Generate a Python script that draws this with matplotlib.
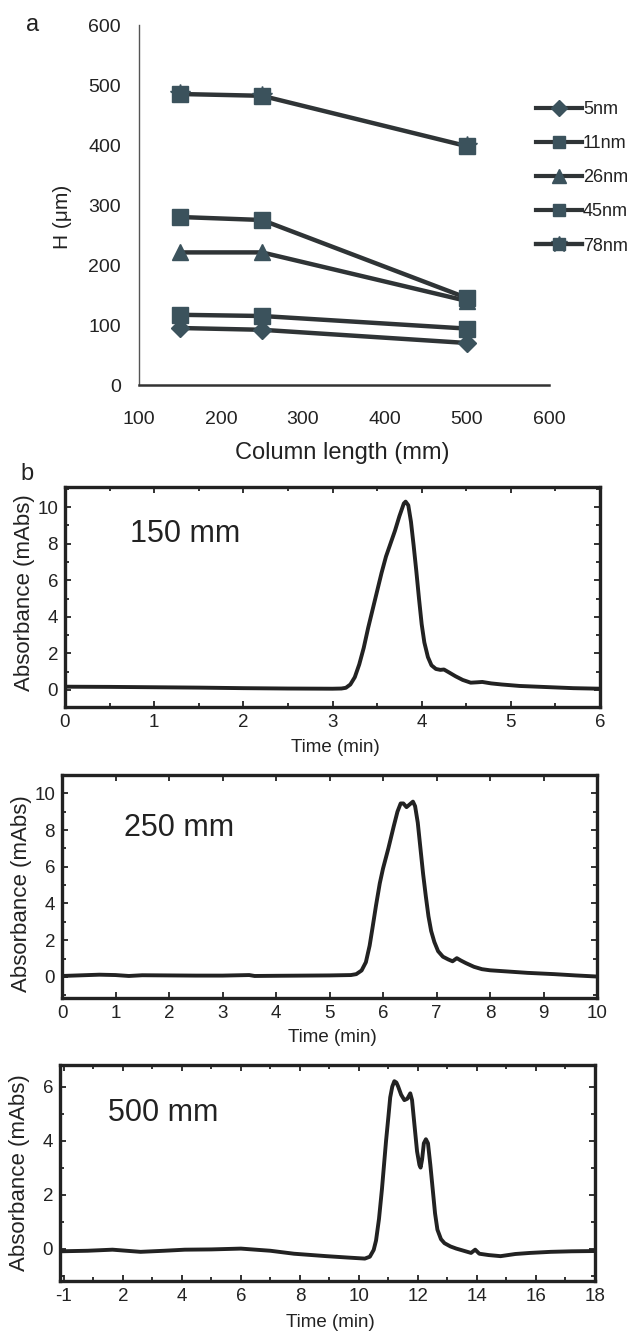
import matplotlib
matplotlib.use("Agg")
import matplotlib.pyplot as plt
from matplotlib.ticker import MultipleLocator, FixedLocator, NullLocator
from matplotlib.lines import Line2D

plt.rcParams['font.family'] = ['Liberation Sans', 'DejaVu Sans']
NARROW = ['Liberation Sans Narrow', 'Liberation Sans', 'DejaVu Sans']

# ---------------- Panel a data ----------------
column_length = [150, 250, 500]
series_labels = ["5nm", "11nm", "26nm", "45nm", "78nm"]
h_5nm = [95, 92, 70]
h_11nm = [117, 115, 94]
h_26nm = [221, 221, 140]
h_45nm = [280, 275, 145]
h_78nm = [485, 482, 398]
a_xticks = [100, 200, 300, 400, 500, 600]
a_yticks = [0, 100, 200, 300, 400, 500, 600]

# ---------------- Panel b data ----------------
t150 = [0.0, 0.5, 1.0, 1.5, 2.0, 2.5, 3.0, 3.1, 3.15, 3.2, 3.25, 3.3, 3.35, 3.4, 3.45,
        3.5, 3.55, 3.6, 3.65, 3.7, 3.75, 3.8, 3.82, 3.85, 3.88, 3.91, 3.94, 3.97, 4.0,
        4.03, 4.07, 4.11, 4.16, 4.21, 4.25, 4.3, 4.38, 4.46, 4.55, 4.62, 4.68, 4.78,
        4.9, 5.1, 5.4, 5.7, 6.0]
a150 = [0.18, 0.17, 0.15, 0.13, 0.1, 0.08, 0.07, 0.08, 0.12, 0.3, 0.7, 1.4, 2.3, 3.4, 4.4,
        5.4, 6.4, 7.3, 8.0, 8.7, 9.5, 10.2, 10.3, 10.1, 9.2, 7.9, 6.5, 5.0, 3.6,
        2.6, 1.8, 1.35, 1.15, 1.1, 1.12, 0.98, 0.75, 0.55, 0.4, 0.42, 0.44, 0.36,
        0.3, 0.22, 0.16, 0.1, 0.07]

t250 = [0.0, 0.3, 0.7, 1.0, 1.25, 1.5, 2.0, 2.5, 3.0, 3.5, 3.6, 4.0, 4.5, 5.0, 5.4, 5.5,
        5.6, 5.68, 5.75, 5.8, 5.87, 5.94, 6.0, 6.1, 6.2, 6.27, 6.33, 6.38, 6.44, 6.5,
        6.56, 6.6, 6.65, 6.7, 6.75, 6.8, 6.85, 6.9, 6.96, 7.03, 7.12, 7.22, 7.3, 7.38,
        7.45, 7.55, 7.7, 7.85, 8.0, 8.3, 8.7, 9.2, 9.6, 10.0]
a250 = [0.05, 0.08, 0.12, 0.1, 0.05, 0.09, 0.08, 0.07, 0.07, 0.1, 0.05, 0.06, 0.07, 0.08, 0.1, 0.15,
        0.35, 0.8, 1.7, 2.6, 3.9, 5.1, 5.9, 7.0, 8.2, 9.0, 9.45, 9.45, 9.25, 9.4,
        9.55, 9.3, 8.4, 7.0, 5.6, 4.4, 3.3, 2.5, 1.9, 1.4, 1.1, 0.95, 0.85, 1.02,
        0.9, 0.75, 0.55, 0.42, 0.36, 0.3, 0.22, 0.15, 0.08, 0.02]

t500 = [-0.13, 0.8, 1.65, 2.6, 3.4, 4.1, 5.0, 6.0, 7.0, 7.8, 8.9, 9.6, 10.2, 10.37, 10.5,
        10.58, 10.68, 10.78, 10.85, 10.92, 11.0, 11.06, 11.13, 11.2, 11.27, 11.33, 11.43,
        11.54, 11.64, 11.74, 11.8, 11.88, 11.97, 12.05, 12.09, 12.14, 12.2, 12.27, 12.34,
        12.42, 12.5, 12.58, 12.66, 12.78, 12.9, 13.1, 13.3, 13.55, 13.8, 13.94, 14.08,
        14.4, 14.8, 15.3, 15.8, 16.5, 17.2, 18.0]
a500 = [-0.1, -0.08, -0.04, -0.12, -0.08, -0.04, -0.03, 0.0, -0.08, -0.19, -0.28, -0.33, -0.37, -0.3, -0.05,
        0.3, 1.1, 2.2, 3.1, 4.0, 4.9, 5.6, 6.0, 6.2, 6.15, 6.0, 5.7,
        5.5, 5.55, 5.75, 5.5, 4.6, 3.6, 3.1, 3.0, 3.3, 3.9, 4.05, 3.9,
        3.1, 2.2, 1.3, 0.7, 0.35, 0.2, 0.08, 0.0, -0.08, -0.16, -0.04, -0.19,
        -0.24, -0.28, -0.2, -0.16, -0.12, -0.1, -0.09]

b1_xticks = [0, 1, 2, 3, 4, 5, 6]
b2_xticks = [0, 1, 2, 3, 4, 5, 6, 7, 8, 9, 10]
b3_xticks = [0, 2, 4, 6, 8, 10, 12, 14, 16, 18]
b3_xticklabels = ["-1", "2", "4", "6", "8", "10", "12", "14", "16", "18"]
b12_yticks = [0, 2, 4, 6, 8, 10]
b3_yticks = [0, 2, 4, 6]

W, H = 639, 1333
fig = plt.figure(figsize=(W / 100, H / 100), dpi=100)
fig.patch.set_facecolor('white')


def rect(left, top, right, bottom):
    return [left / W, 1 - bottom / H, (right - left) / W, (bottom - top) / H]


# ---------------- Panel a ----------------
ax = fig.add_axes(rect(139, 25, 549, 385))
LINE_C = '#2f3436'
MARK_C = '#3b525c'
styles = [
    (h_5nm, 'D', 9),
    (h_11nm, 's', 11),
    (h_26nm, '^', 12),
    (h_45nm, 's', 11),
    (h_78nm, 's', 11),
]
handles = []
for (vals, mk, ms), lab in zip(styles, series_labels):
    ax.plot(column_length, vals, color=LINE_C, lw=3.2, zorder=2)
    if lab == "78nm":
        ax.plot(column_length, vals, ls='none', marker='*', ms=15, color=MARK_C,
                mec=MARK_C, zorder=3)
    ax.plot(column_length, vals, ls='none', marker=mk, ms=ms, color=MARK_C,
            mec=MARK_C, zorder=3)
    base = Line2D([], [], color=LINE_C, lw=3.0, marker=mk, ms=ms * 0.85,
                  mfc=MARK_C, mec=MARK_C)
    if lab == "78nm":
        star = Line2D([], [], color=LINE_C, lw=3.0, marker='*', ms=12,
                      mfc=MARK_C, mec=MARK_C)
        handles.append((star, base))
    else:
        handles.append(base)

ax.set_xlim(100, 600)
ax.set_ylim(0, 600)
ax.set_xticks(a_xticks)
ax.set_yticks(a_yticks)
ax.tick_params(length=0, labelsize=14, colors='#222222')
ax.tick_params(axis='x', pad=19)
ax.tick_params(axis='y', pad=13)
for lbl in ax.get_xticklabels() + ax.get_yticklabels():
    lbl.set_family(NARROW)
ax.spines['top'].set_visible(False)
ax.spines['right'].set_visible(False)
ax.spines['left'].set_color('#555555')
ax.spines['left'].set_linewidth(1.0)
ax.spines['bottom'].set_color('#333333')
ax.spines['bottom'].set_linewidth(1.8)
ax.set_xlabel("Column length (mm)", fontsize=17, color='#222222')
ax.xaxis.set_label_coords(0.495, -(453 - 385) / 360)
ax.xaxis.label.set_va('center')
ax.set_ylabel("H (μm)", fontsize=15, color='#222222')
ax.yaxis.set_label_coords((63 - 139) / 410, (385 - 217) / 360)
ax.yaxis.label.set_va('center')

leg = ax.legend(handles, series_labels, loc='upper left',
                bbox_to_anchor=(536 / W, 1 - 101 / H), bbox_transform=fig.transFigure,
                frameon=False, fontsize=13, handlelength=2.55, handletextpad=0.05,
                labelspacing=0.95, borderpad=0, borderaxespad=0)
for t in leg.get_texts():
    t.set_color('#222222')

fig.text(33 / W, 1 - 25 / H, "a", fontsize=17, ha='center', va='center', color='#222222')
fig.text(27 / W, 1 - 474 / H, "b", fontsize=17, ha='center', va='center', color='#222222')


# ---------------- Panel b ----------------
def chrom(r, t, a, xlim, ylim, xticks, xlabels, yticks, xminor, yminor, label, lab_xy,
          xl_y, yl_y):
    bx = fig.add_axes(r)
    bx.plot(t, a, color='#222222', lw=2.8, solid_joinstyle='round')
    bx.set_xlim(*xlim)
    bx.set_ylim(*ylim)
    bx.xaxis.set_major_locator(FixedLocator(xticks))
    bx.set_xticklabels(xlabels)
    bx.set_yticks(yticks)
    if xminor:
        bx.xaxis.set_minor_locator(MultipleLocator(xminor))
    else:
        bx.xaxis.set_minor_locator(NullLocator())
    bx.yaxis.set_minor_locator(MultipleLocator(yminor))
    bx.tick_params(which='both', direction='in', top=True, right=True, color='#222222',
                   width=1.3, labelsize=13.5, labelcolor='#222222')
    bx.tick_params(which='major', length=4.5, pad=5)
    bx.tick_params(which='minor', length=3)
    for lbl in bx.get_xticklabels() + bx.get_yticklabels():
        lbl.set_family(NARROW)
    for s in bx.spines.values():
        s.set_linewidth(2.4)
        s.set_color('#222222')
    bx.set_xlabel("Time (min)", fontsize=13.5, color='#222222')
    bx.xaxis.set_label_coords(0.505, xl_y)
    bx.xaxis.label.set_va('center')
    bx.set_ylabel("Absorbance (mAbs)", fontsize=16, color='#222222')
    bx.yaxis.set_label_coords(-0.076, yl_y)
    bx.yaxis.label.set_va('center')
    bx.text(lab_xy[0], lab_xy[1], label, transform=bx.transAxes, fontsize=22,
            ha='left', va='baseline', color='#222222')
    return bx


chrom(rect(65, 487, 600, 707), t150, a150, (0, 6), (-0.93, 11.1), b1_xticks,
      [str(v) for v in b1_xticks], b12_yticks, 0.5, 1, "150 mm", (0.121, 0.75),
      -0.182, 0.518)
chrom(rect(62, 775, 597, 998), t250, a250, (0, 10), (-1.15, 11.0), b2_xticks,
      [str(v) for v in b2_xticks], b12_yticks, None, 1, "250 mm", (0.116, 0.726),
      -0.175, 0.47)
chrom(rect(60, 1065, 595, 1281), t500, a500, (-0.13, 18), (-1.2, 6.8), b3_xticks,
      b3_xticklabels, b3_yticks, 1, 1, "500 mm", (0.09, 0.74),
      -0.194, 0.5)

fig.savefig("out.png", dpi=100, facecolor='white')
